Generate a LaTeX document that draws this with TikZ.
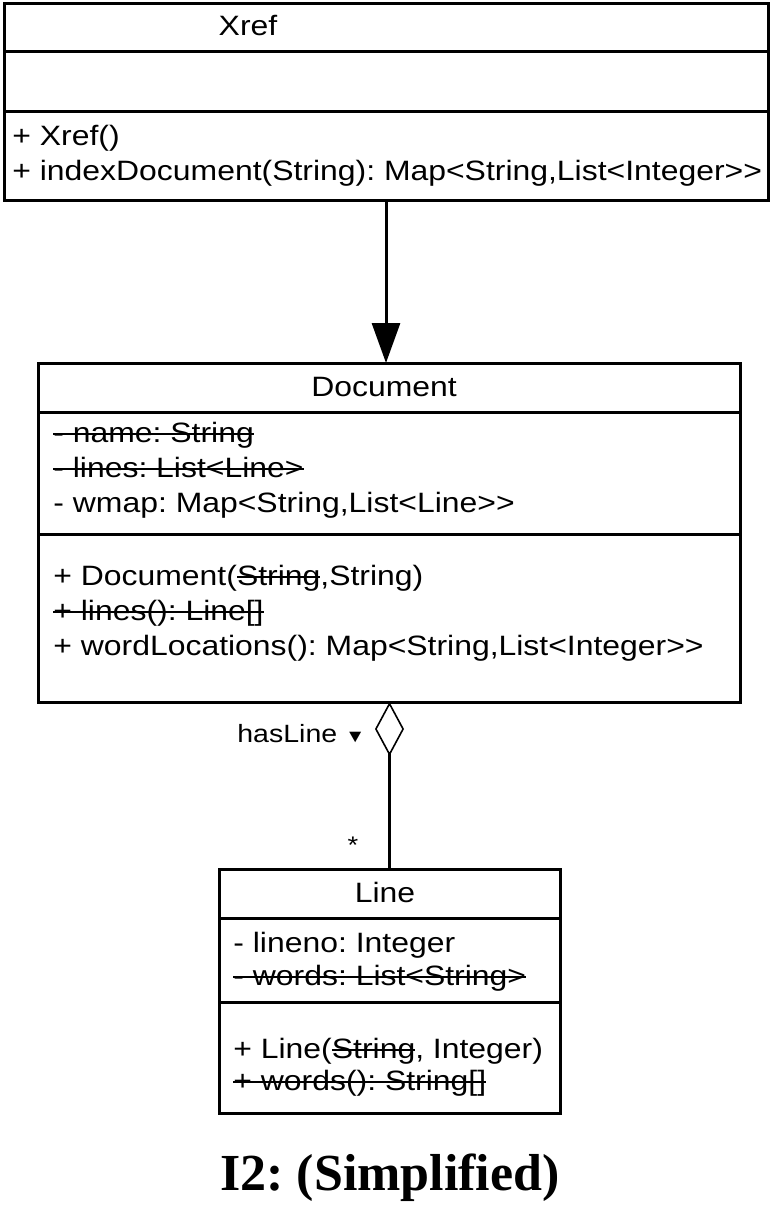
\documentclass[tikz,border=0pt]{standalone}
\usepackage{fontspec}
\setmainfont{Liberation Sans}[FakeStretch=1.14]
\newfontfamily\captionfont{Liberation Serif}
\usetikzlibrary{arrows.meta, positioning}
% strike-through text
\newcommand\struck[1]{\setbox0\hbox{#1}\rlap{\rule[0.25em]{\wd0}{0.8pt}}\box0}
\frenchspacing

\begin{document}
\begin{tikzpicture}[
    x=0.5pt, y=-0.5pt,
    classbox/.style={rectangle, draw, line width=1.5pt, inner sep=0pt,
                     outer sep=0pt, anchor=north west},
    sep/.style={line width=1.5pt},
    member/.style={anchor=base west, inner sep=0pt,
                   font=\fontsize{14}{16}\selectfont},
    classname/.style={anchor=base, inner sep=0pt,
                      font=\fontsize{14}{16}\selectfont},
    arr/.style={-{Triangle[length=20pt, width=14pt]}, line width=1.5pt},
    aggr/.style={{Diamond[open, length=27pt, width=14.5pt, line width=0.8pt]}-,
                 line width=1.5pt}
]
    \useasboundingbox (0,0) rectangle (772,1205);

    % Xref
    \node[classbox, minimum width=382pt, minimum height=98.5pt] (xref) at (4,3) {};
    \draw[sep] (4,51) -- (768,51);
    \draw[sep] (4,111) -- (768,111);
    \node[classname] (xref-name) at (248,35) {Xref};
    \node[member] (xref-op1) at (12,145) {+ Xref()};
    \node[member] (xref-op2) at (12,180) {+ indexDocument(String): Map<String,List<Integer>{}>};

    % Document
    \node[classbox, minimum width=351pt, minimum height=169.5pt] (doc) at (38,363) {};
    \draw[sep] (38,412) -- (740,412);
    \draw[sep] (38,534) -- (740,534);
    \node[classname] (doc-name) at (384,396) {Document};
    \node[member] (doc-at1) at (53,442) {\struck{- name: String}};
    \node[member] (doc-at2) at (53,477) {\struck{- lines: List<Line>}};
    \node[member] (doc-at3) at (53,512) {- wmap: Map<String,List<Line>{}>};
    \node[member] (doc-op1) at (53,585) {+ Document(\struck{String},String)};
    \node[member] (doc-op2) at (53,620) {\struck{+ lines(): Line[]}};
    \node[member] (doc-op3) at (53,655) {+ wordLocations(): Map<String,List<Integer>{}>};

    % Line
    \node[classbox, minimum width=170.5pt, minimum height=122pt] (line) at (219,869) {};
    \draw[sep] (219,918) -- (560,918);
    \draw[sep] (219,1002) -- (560,1002);
    \node[classname] (line-name) at (385,902) {Line};
    \node[member] (line-at1) at (233,952) {- lineno: Integer};
    \node[member] (line-at2) at (233,985) {\struck{- words: List<String>}};
    \node[member] (line-op1) at (233,1058) {+ Line(\struck{String}, Integer)};
    \node[member] (line-op2) at (233,1090) {\struck{+ words(): String[]}};

    % relations
    \draw[arr] (xref.south) -- (xref.south |- doc.north);
    \draw[aggr] (line.north |- doc.south) -- (line.north);
    \node[member, font=\fontsize{12.5}{14}\selectfont] (has) at (237,742) {hasLine {\fontsize{9}{10}\selectfont▼}};
    \node[inner sep=0pt, font=\fontsize{12}{14}\selectfont] (mult) at (353,845) {*};

    \node[anchor=base, inner sep=0pt, font=\captionfont\bfseries\fontsize{26}{28}\selectfont]
        (caption) at (390,1190) {I2: (Simplified)};
\end{tikzpicture}
\end{document}
